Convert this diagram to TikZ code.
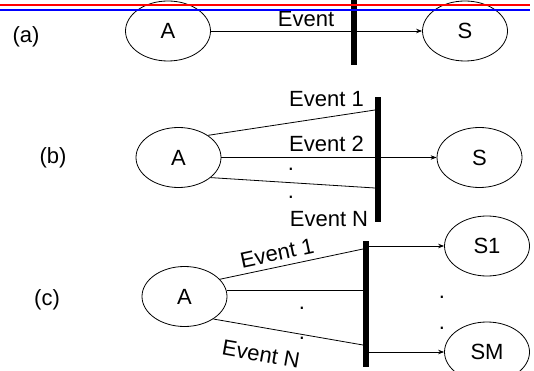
\documentclass[tikz,border=0pt]{standalone}
\usepackage{fontspec}
\setmainfont{Liberation Sans}
\usepackage{tikz}
\usetikzlibrary{arrows.meta, shapes.geometric, positioning}
\definecolor{rulered}{RGB}{255, 0, 0}
\definecolor{ruleblue}{RGB}{0, 0, 255}

\tikzset{
  state/.style={ellipse, draw, line width=0.8pt, minimum width=85pt, minimum height=60pt, inner sep=0pt},
  evbar/.style={rectangle, fill=black, inner sep=0pt, minimum width=6pt},
  flow/.style={line width=0.8pt},
  go/.style={flow, -{Stealth[length=6pt, width=4.5pt]}}
}

\begin{document}
\begin{tikzpicture}[x=1pt, y=-1pt, every node/.style={font=\fontsize{22}{25}\selectfont}]
        \useasboundingbox (0,0) rectangle (534,371);

        % (a) one event, one state
        \node (la) at (26,37) {(a)};
        \node[state] (Aa) at (168,31) {A};
        \node[state] (Sa) at (465,31) {S};
        \node[evbar, minimum height=65pt] (bara) at (354,32.5) {};
        \node (eva) at (306,19.5) {Event};
        \draw[go] (Aa.east) -- (Sa.west);

        % (b) many events into one state
        \node (lb) at (53,158) {(b)};
        \node[state] (Ab) at (178.5,157.5) {A};
        \node[state] (Sb) at (479.5,157.5) {S};
        \node[evbar, minimum height=125pt] (barb) at (378,159.5) {};
        \coordinate (b1) at (375,110);
        \coordinate (bN) at (375,188);
        \draw[flow] (Ab.37) -- (b1);
        \draw[go] (Ab.east) -- (Sb.west);
        \draw[flow] (Ab.-32) -- (bN);
        \node (ev1b) at (326.5,99.5) {Event 1};
        \node (ev2b) at (326.5,144) {Event 2};
        \node (evNb) at (329,219.5) {Event N};
        \foreach \i/\y in {1/169, 2/197}
          \node (db\i) at (291,\y) {.};

        % (c) many events into many states
        \node (lc) at (47,300) {(c)};
        \node[state] (Ac) at (184.5,296.5) {A};
        \node[state] (S1) at (487,246) {S1};
        \node[state] (SM) at (487,352) {SM};
        \node[evbar, minimum height=126pt] (barc) at (366,304) {};
        \coordinate (c1) at (363,249);
        \coordinate (cN) at (363,345);
        \draw[flow] (Ac.26) -- (c1);
        \draw[flow] (Ac.8) -- (Ac.8 -| barc.west);
        \draw[flow] (Ac.-38) -- (cN);
        \draw[go] (barc.east |- S1.west) -- (S1.west);
        \draw[go] (barc.east |- SM.west) -- (SM.west);
        \node[rotate=12, inner sep=1pt] (ev1c) at (277,253) {Event 1};
        \node[rotate=-10, inner sep=1pt] (evNc) at (261,354) {Event N};
        \foreach \i/\x/\y in {1/302/308, 2/302/338, 3/442/297, 4/442/328}
          \node (dc\i) at (\x,\y) {.};

        % header rules
        \draw[rulered, line width=2pt] (0,5) -- (530,5);
        \draw[ruleblue, line width=2pt] (0,10) -- (530,10);
      \end{tikzpicture}
\end{document}
